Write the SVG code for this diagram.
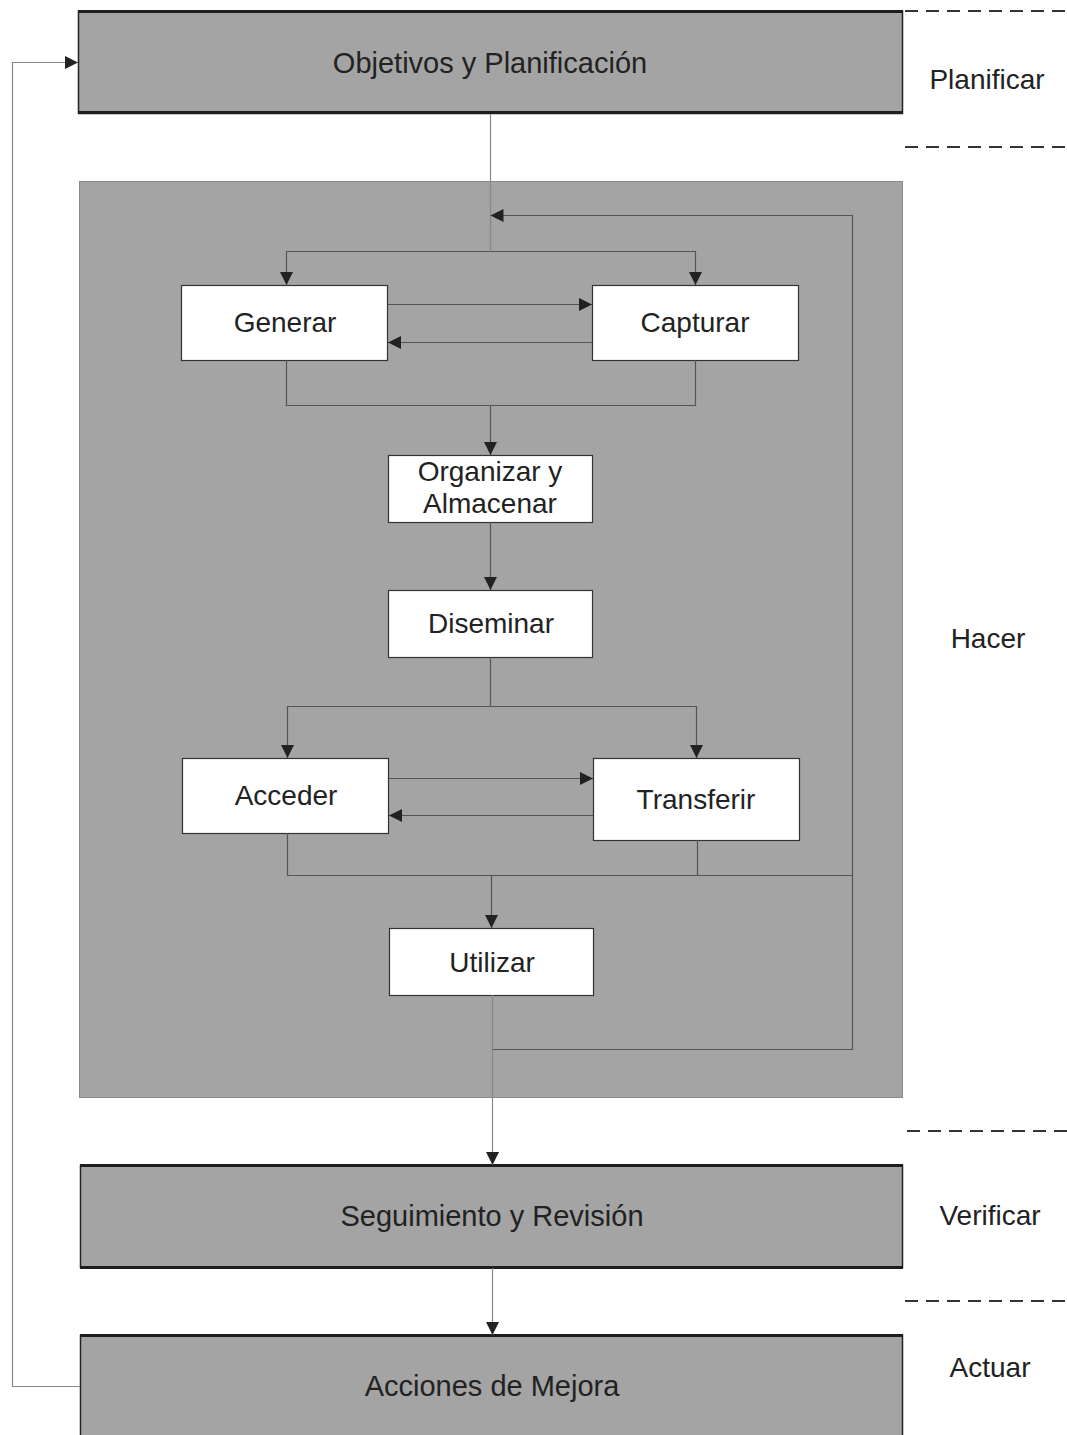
<svg xmlns="http://www.w3.org/2000/svg" width="1067" height="1435" viewBox="0 0 1067 1435">
  <style>
    .phase { fill: #a4a4a4; stroke: #222; stroke-width: 1.5; }
    .band { fill: #1e1e1e; }
    .area { fill: #a4a4a4; stroke: #8a8a8a; stroke-width: 1; }
    .step { fill: #ffffff; stroke: #333; stroke-width: 1.2; }
    .lbl { font-family: "Liberation Sans", Arial, sans-serif; font-size: 28px; fill: #222; text-anchor: middle; }
    .big { font-size: 29px; }
    .conn { fill: none; stroke: #555; stroke-width: 1.2; }
    .feed { fill: none; stroke: #888; stroke-width: 1.2; }
    .sep { stroke: #333; stroke-width: 2; stroke-dasharray: 13 8; }
  </style>
  <defs>
    <marker id="ah" viewBox="0 0 10 10" refX="10" refY="5" markerWidth="13" markerHeight="13" markerUnits="userSpaceOnUse" orient="auto">
      <path d="M0,0 L10,5 L0,10 z" fill="#222"/>
    </marker>
  </defs>

  <rect width="1067" height="1435" fill="#ffffff"/>

  <!-- phase separators -->
  <g id="separators">
    <line class="sep" x1="905" y1="11" x2="1067" y2="11"/>
    <line class="sep" x1="905" y1="147" x2="1067" y2="147"/>
    <line class="sep" x1="907" y1="1131" x2="1067" y2="1131"/>
    <line class="sep" x1="905" y1="1301" x2="1067" y2="1301"/>
  </g>

  <!-- phase names -->
  <g id="phase-labels">
    <text class="lbl" x="987" y="89">Planificar</text>
    <text class="lbl" x="988" y="648">Hacer</text>
    <text class="lbl" x="990" y="1225">Verificar</text>
    <text class="lbl" x="990" y="1377">Actuar</text>
  </g>

  <!-- Hacer area -->
  <g id="hacer">
    <rect class="area" x="79.5" y="181.5" width="823" height="916"/>
  </g>

  <g id="objetivos">
    <rect class="phase" x="78.5" y="11.5" width="824" height="102"/>
    <rect class="band" x="78" y="10" width="825" height="3"/>
    <rect class="band" x="78" y="111" width="825" height="3"/>
    <text class="lbl big" x="490" y="73">Objetivos y Planificación</text>
  </g>

  <g id="seguimiento">
    <rect class="phase" x="80.5" y="1165.5" width="822" height="102"/>
    <rect class="band" x="80" y="1164" width="823" height="3"/>
    <rect class="band" x="80" y="1266" width="823" height="3"/>
    <text class="lbl big" x="492" y="1226">Seguimiento y Revisión</text>
  </g>

  <g id="acciones">
    <rect class="phase" x="80.5" y="1335.5" width="822" height="110"/>
    <rect class="band" x="80" y="1334" width="823" height="3"/>
    <text class="lbl big" x="492" y="1396">Acciones de Mejora</text>
  </g>

  <g id="generar">
    <rect class="step" x="181.5" y="285.5" width="206" height="75"/>
    <text class="lbl" x="285" y="332">Generar</text>
  </g>
  <g id="capturar">
    <rect class="step" x="592.5" y="285.5" width="206" height="75"/>
    <text class="lbl" x="695" y="332">Capturar</text>
  </g>
  <g id="organizar">
    <rect class="step" x="388.5" y="455.5" width="204" height="67"/>
    <text class="lbl" x="490" y="481">Organizar y</text>
    <text class="lbl" x="490" y="513">Almacenar</text>
  </g>
  <g id="diseminar">
    <rect class="step" x="388.5" y="590.5" width="204" height="67"/>
    <text class="lbl" x="491" y="633">Diseminar</text>
  </g>
  <g id="acceder">
    <rect class="step" x="182.5" y="758.5" width="206" height="75"/>
    <text class="lbl" x="286" y="805">Acceder</text>
  </g>
  <g id="transferir">
    <rect class="step" x="593.5" y="758.5" width="206" height="82"/>
    <text class="lbl" x="696" y="809">Transferir</text>
  </g>
  <g id="utilizar">
    <rect class="step" x="389.5" y="928.5" width="204" height="67"/>
    <text class="lbl" x="492" y="972">Utilizar</text>
  </g>

  <g id="connectors">
    <!-- planning into the doing area -->
    <path class="feed" d="M490.5,114 V251.5"/>
    <!-- fan out to Generar / Capturar -->
    <path class="conn" d="M490.5,251.5 H286.5 V285" marker-end="url(#ah)"/>
    <path class="conn" d="M490.5,251.5 H695.5 V285" marker-end="url(#ah)"/>
    <!-- Generar <-> Capturar -->
    <path class="conn" d="M388,304.5 H592" marker-end="url(#ah)"/>
    <path class="conn" d="M592,342.5 H388" marker-end="url(#ah)"/>
    <!-- merge into Organizar -->
    <path class="conn" d="M286.5,360 V405.5 H695.5 V360"/>
    <path class="conn" d="M490.5,405.5 V455" marker-end="url(#ah)"/>
    <!-- Organizar to Diseminar -->
    <path class="conn" d="M490.5,522 V590" marker-end="url(#ah)"/>
    <!-- Diseminar fan out -->
    <path class="conn" d="M490.5,657 V706.5"/>
    <path class="conn" d="M490.5,706.5 H287.5 V758" marker-end="url(#ah)"/>
    <path class="conn" d="M490.5,706.5 H696.5 V758" marker-end="url(#ah)"/>
    <!-- Acceder <-> Transferir -->
    <path class="conn" d="M389,778.5 H593" marker-end="url(#ah)"/>
    <path class="conn" d="M593,815.5 H389" marker-end="url(#ah)"/>
    <!-- merge into Utilizar -->
    <path class="conn" d="M287.5,833 V875.5 H852.5"/>
    <path class="conn" d="M697.5,840 V875.5"/>
    <path class="conn" d="M491.5,875.5 V928" marker-end="url(#ah)"/>
    <!-- Utilizar down to Seguimiento -->
    <path class="feed" d="M492.5,995 V1165" marker-end="url(#ah)"/>
    <!-- inner feedback loop -->
    <path class="conn" d="M492.5,1049.5 H852.5 V215.5 H490.5" marker-end="url(#ah)"/>
    <!-- Seguimiento to Acciones -->
    <path class="feed" d="M492.5,1268 V1335" marker-end="url(#ah)"/>
    <!-- outer improvement loop -->
    <path class="feed" d="M80,1386.5 H12.5 V62.5 H78" marker-end="url(#ah)"/>
  </g>
</svg>
